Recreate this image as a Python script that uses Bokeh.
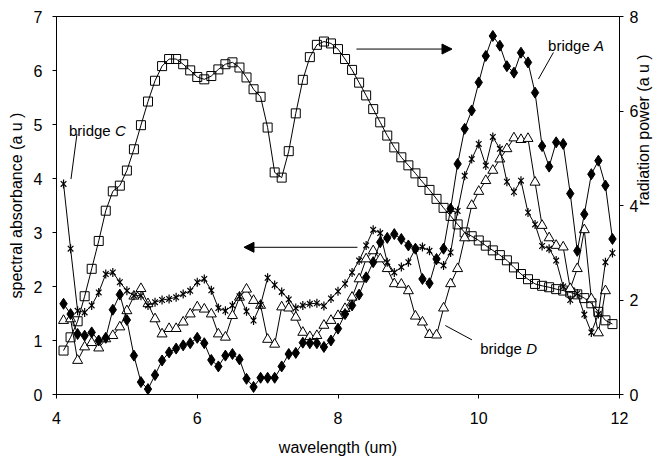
import math
from bokeh.plotting import figure
from bokeh.models import Range1d, LinearAxis, FixedTicker, Arrow, NormalHead
from bokeh.core.properties import value
from bokeh.embed import file_html
from bokeh.resources import INLINE

# ---------------- data ----------------
wavelength = [4.1, 4.2, 4.3, 4.4, 4.5, 4.6, 4.7, 4.8, 4.9, 5.0,
              5.1, 5.2, 5.3, 5.4, 5.5, 5.6, 5.7, 5.8, 5.9, 6.0,
              6.1, 6.2, 6.3, 6.4, 6.5, 6.6, 6.7, 6.8, 6.9, 7.0,
              7.1, 7.2, 7.3, 7.4, 7.5, 7.6, 7.7, 7.8, 7.9, 8.0,
              8.1, 8.2, 8.3, 8.4, 8.5, 8.6, 8.7, 8.8, 8.9, 9.0,
              9.1, 9.2, 9.3, 9.4, 9.5, 9.6, 9.7, 9.8, 9.9, 10.0,
              10.1, 10.2, 10.3, 10.4, 10.5, 10.6, 10.7, 10.8, 10.9, 11.0,
              11.1, 11.2, 11.3, 11.4, 11.5, 11.6, 11.7, 11.8, 11.9]

# radiation power (right axis), open squares
radiation_power = [0.93, 1.21, 1.55, 2.08, 2.66, 3.25, 3.89, 4.30, 4.42, 4.74,
                   5.19, 5.70, 6.20, 6.64, 6.95, 7.10, 7.10, 6.99, 6.86, 6.72,
                   6.67, 6.74, 6.88, 6.99, 7.03, 6.92, 6.71, 6.46, 6.30, 5.65,
                   4.70, 4.59, 5.15, 5.95, 6.66, 7.14, 7.40, 7.47, 7.43, 7.31,
                   7.10, 6.87, 6.60, 6.33, 6.04, 5.76, 5.48, 5.23, 5.02, 4.85,
                   4.68, 4.50, 4.33, 4.14, 3.95, 3.78, 3.60, 3.43, 3.35, 3.26,
                   3.15, 3.05, 2.95, 2.84, 2.69, 2.55, 2.44, 2.34, 2.30, 2.27,
                   2.23, 2.20, 2.16, 2.12, 2.04, 1.93, 1.75, 1.57, 1.49]

# bridge A, filled diamonds (left axis)
bridge_A = [1.68, 1.49, 1.12, 1.09, 1.15, 1.00, 1.05, 1.57, 1.85, 1.38,
            0.72, 0.23, 0.10, 0.36, 0.63, 0.78, 0.85, 0.91, 0.95, 1.05,
            0.95, 0.64, 0.52, 0.72, 0.75, 0.65, 0.29, 0.14, 0.31, 0.31,
            0.31, 0.52, 0.75, 0.77, 0.96, 0.95, 0.95, 0.88, 1.00, 1.22,
            1.49, 1.65, 1.85, 2.17, 2.45, 2.82, 2.90, 2.97, 2.88, 2.76,
            2.70, 2.14, 2.06, 2.51, 2.70, 3.44, 4.27, 4.92, 5.26, 5.78,
            6.27, 6.64, 6.46, 6.08, 5.96, 6.33, 6.15, 5.59, 4.60, 4.22,
            4.67, 4.64, 3.72, 2.66, 3.34, 4.08, 4.33, 3.87, 2.88]

# bridge C, stars (left axis)
bridge_C = [3.90, 2.70, 1.55, 1.52, 1.65, 1.89, 2.23, 2.26, 2.08, 1.92,
            1.83, 1.83, 1.65, 1.71, 1.75, 1.77, 1.80, 1.86, 1.92, 2.08,
            2.14, 1.93, 1.60, 1.55, 1.65, 1.82, 1.54, 1.37, 1.66, 2.16,
            2.03, 1.90, 1.76, 1.60, 1.65, 1.68, 1.69, 1.64, 1.78, 1.91,
            2.05, 2.26, 2.48, 2.76, 3.05, 2.99, 2.45, 2.26, 2.36, 2.45,
            2.70, 2.73, 2.66, 2.48, 2.39, 2.63, 3.40, 4.05, 4.36, 4.64,
            4.24, 4.77, 4.55, 3.94, 3.75, 3.96, 3.37, 3.15, 2.75, 2.70,
            2.48, 2.00, 1.75, 1.87, 1.48, 1.15, 1.49, 2.45, 2.62]

# bridge D, open triangles (left axis), 4.1 .. 11.8
wavelength_D = wavelength[:78]
bridge_D = [1.37, 1.40, 0.63, 0.88, 0.96, 0.86, 1.03, 1.09, 1.25, 1.55,
            1.82, 1.96, 1.68, 1.40, 1.12, 1.22, 1.22, 1.34, 1.49, 1.62,
            1.58, 1.49, 1.12, 1.06, 1.46, 1.80, 1.95, 1.74, 1.65, 1.02,
            0.93, 1.62, 1.60, 1.43, 1.15, 1.07, 1.09, 1.28, 1.37, 1.46,
            1.59, 1.80, 2.14, 2.51, 2.66, 2.51, 2.33, 2.05, 2.04, 1.92,
            1.45, 1.34, 1.11, 1.10, 1.60, 2.05, 2.33, 2.90, 3.50, 3.76,
            3.96, 4.15, 4.36, 4.55, 4.75, 4.72, 4.74, 3.93, 3.13, 2.90,
            2.76, 2.73, 1.96, 2.33, 3.05, 1.77, 1.14, 1.92]

x_ticks = [4, 6, 8, 10, 12]
left_ticks = [0, 1, 2, 3, 4, 5, 6, 7]
right_ticks = [0, 2, 4, 6, 8]

x_label = "wavelength (um)"
left_label = "spectral absorbance (a u )"
right_label = "radiation power (a u )"

# annotation anchors (data units, left axis)
label_C = (4.177, 4.885)
label_A = (10.985, 6.458)
label_D = (10.021, 0.846)
leader_C = (4.291, 4.824, 4.206, 3.99)
leader_A = (11.061, 6.334, 10.848, 5.842)
leader_D = (9.525, 1.277, 9.903, 1.012)
arrow_right = (8.262, 6.397, 9.620, 6.397)
arrow_left = (8.276, 2.726, 6.664, 2.726)

FONT = "Liberation Sans"
FS_AXIS = "16px"
FS_NOTE = "15px"

p = figure(width=667, height=460, output_backend="svg", toolbar_location=None,
           title=None, x_range=Range1d(4, 12), y_range=Range1d(0, 7),
           min_border_left=56, min_border_right=48, min_border_top=16,
           min_border_bottom=66, background_fill_color="white",
           border_fill_color="white")
p.extra_y_ranges = {"power": Range1d(0, 8)}
p.xgrid.visible = False
p.ygrid.visible = False
p.outline_line_color = "black"
p.outline_line_width = 1


def style_axis(ax, standoff, label_standoff):
    ax.axis_line_color = "black"
    ax.major_tick_line_color = "black"
    ax.major_tick_out = 4
    ax.major_tick_in = 0
    ax.minor_tick_line_color = None
    ax.major_label_text_font = FONT
    ax.major_label_text_font_size = FS_AXIS
    ax.major_label_text_color = "black"
    ax.major_label_standoff = standoff
    ax.axis_label_text_font = FONT
    ax.axis_label_text_font_size = FS_AXIS
    ax.axis_label_text_font_style = "normal"
    ax.axis_label_text_color = "black"
    ax.axis_label_standoff = label_standoff


xa = p.below[0]
xa.ticker = FixedTicker(ticks=x_ticks)
xa.axis_label = x_label
style_axis(xa, 13, 12)

ya = p.left[0]
ya.ticker = FixedTicker(ticks=left_ticks)
ya.axis_label = left_label
style_axis(ya, 10, 6)

ra = LinearAxis(y_range_name="power", ticker=FixedTicker(ticks=right_ticks),
                axis_label=right_label)
style_axis(ra, 6, 2)
if "axis_label_orientation" in ra.properties():
    ra.axis_label_orientation = math.pi / 2
p.add_layout(ra, "right")

# ---------------- series ----------------
LW = 1
# radiation power (squares)
p.line(wavelength, radiation_power, y_range_name="power", line_color="black", line_width=LW)
p.scatter(wavelength, radiation_power, y_range_name="power", marker="square", size=9,
          fill_color=None, line_color="black", line_width=1)

# bridge D (triangles)
p.line(wavelength_D, bridge_D, line_color="black", line_width=LW)
p.scatter(wavelength_D, bridge_D, marker="triangle", size=10,
          fill_color="white", line_color="black", line_width=1)

# bridge C (stars)
p.line(wavelength, bridge_C, line_color="black", line_width=LW)
p.scatter(wavelength, bridge_C, marker="x", size=8, line_color="black", line_width=1.2)
p.scatter(wavelength, bridge_C, marker="dash", size=9, angle=math.pi / 2,
          line_color="black", line_width=1.2)

# bridge A (diamonds)
p.line(wavelength, bridge_A, line_color="black", line_width=LW)
p.scatter(wavelength, bridge_A, marker="diamond", size=11,
          fill_color="black", line_color="black")

# ---------------- annotations ----------------
for (xs, ys, xe, ye) in (arrow_right, arrow_left):
    p.add_layout(Arrow(end=NormalHead(size=10, fill_color="black", line_color="black"),
                       x_start=xs, y_start=ys, x_end=xe, y_end=ye,
                       line_color="black", line_width=1))

lead = [leader_C, leader_A, leader_D]
p.segment(x0=[s[0] for s in lead], y0=[s[1] for s in lead],
          x1=[s[2] for s in lead], y1=[s[3] for s in lead],
          line_color="black", line_width=1)

for (lx, ly), letter in ((label_C, "C"), (label_A, "A"), (label_D, "D")):
    p.text(x=[lx], y=[ly], text=["bridge"], text_font=value(FONT),
           text_font_size=FS_NOTE, text_color="black", text_align="left",
           text_baseline="alphabetic")
    p.text(x=[lx], y=[ly], text=[letter], x_offset=46, text_font=value(FONT),
           text_font_size=FS_NOTE, text_font_style="italic", text_color="black",
           text_align="left", text_baseline="alphabetic")

open("out.html", "w").write(file_html(p, INLINE))
